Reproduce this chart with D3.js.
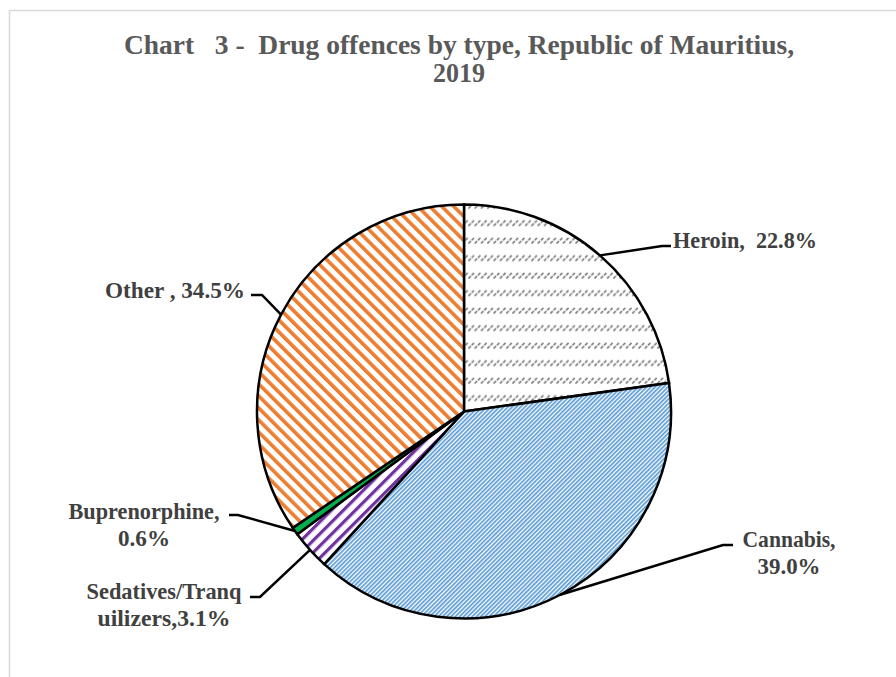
<!DOCTYPE html>
<meta charset="utf-8">
<style>
  body { margin: 0; background: #fff; }
  .title { font-family: "Liberation Serif", "Times New Roman", serif; font-weight: bold; fill: #595959; white-space: pre; }
  .lbl { font-family: "Liberation Serif", "Times New Roman", serif; font-weight: bold; fill: #404040; white-space: pre; }
  .slice { stroke: #000; stroke-width: 2.5px; }
  .leader { fill: none; stroke: #000; stroke-width: 2.5px; }
</style>
<body>
<script src="https://cdn.jsdelivr.net/npm/d3@7"></script>
<script>
  // data
  var categories = ["Heroin", "Cannabis", "Sedatives/Tranquilizers", "Buprenorphine", "Other"];
  var shares = [22.8, 39.0, 3.1, 0.6, 34.5];
  var labelText = [["Heroin,  22.8%"], ["Cannabis,", "39.0%"], ["Sedatives/Tranq", "uilizers,3.1%"], ["Buprenorphine,", "0.6%"], ["Other , 34.5%"]];
  var titleLines = ["Chart   3 -  Drug offences by type, Republic of Mauritius,", "2019"];

  // layout of the labels and leader lines (picture coordinates)
  var labelLayout = [
    { elbow: [662, 246], end: [671, 246], x: 673, y: 248, anchor: "start", widths: [144] },
    { elbow: [723, 545], end: [733, 545], x: 789, y: 547, anchor: "middle", widths: [93, 63] },
    { elbow: [260, 597], end: [250, 597], x: 164, y: 599, anchor: "middle", widths: [155, 133] },
    { elbow: [238, 515], end: [229, 515], x: 144, y: 519, anchor: "middle", widths: [151, 52] },
    { elbow: [262, 295], end: [251, 295], x: 245, y: 298, anchor: "end", widths: [140] }
  ];

  var width = 896, height = 677;
  var cx = 464, cy = 411.5, radius = 207;

  var svg = d3.select("body").append("svg")
    .attr("width", width)
    .attr("height", height);

  // light frame (top and left edges are visible)
  svg.append("path")
    .attr("d", "M9.5," + height + "V10.5H" + width)
    .attr("fill", "none")
    .attr("stroke", "#d9d9d9")
    .attr("stroke-width", 1.5);

  var defs = svg.append("defs");

  // stripe patterns
  function stripes(id, color, period, thick, angle) {
    var p = defs.append("pattern")
      .attr("id", id)
      .attr("patternUnits", "userSpaceOnUse")
      .attr("width", period)
      .attr("height", period)
      .attr("patternTransform", "rotate(" + angle + ")");
    p.append("rect").attr("width", period).attr("height", period).attr("fill", "#fff");
    p.append("rect").attr("width", thick).attr("height", period).attr("fill", color);
  }
  stripes("pCannabis", "#5b9bd5", 3, 1.7, 45);
  stripes("pSedatives", "#7030a0", 8.5, 3.2, 45);
  stripes("pOther", "#ed7d31", 8.5, 3.6, -45);

  // heroin: rows of short gray dashes
  var ph = defs.append("pattern")
    .attr("id", "pHeroin")
    .attr("patternUnits", "userSpaceOnUse")
    .attr("x", cx)
    .attr("y", cy - radius + 6)
    .attr("width", 6.3)
    .attr("height", 17.5);
  ph.append("rect").attr("width", 6.3).attr("height", 17.5).attr("fill", "#fff");
  ph.append("line")
    .attr("x1", 0.3).attr("y1", 6.5).attr("x2", 6).attr("y2", 0.8)
    .attr("stroke", "#7f7f7f")
    .attr("stroke-width", 1.7)
    .attr("stroke-dasharray", "3.5,1.2");

  var fills = ["url(#pHeroin)", "url(#pCannabis)", "url(#pSedatives)", "#00b050", "url(#pOther)"];

  var pie = d3.pie().sort(null).value(function(d) { return d; });
  var arcs = pie(shares);
  var arc = d3.arc().innerRadius(0).outerRadius(radius);

  var g = svg.append("g")
    .attr("transform", "translate(" + cx + "," + cy + ")");

  g.selectAll("path.slice")
    .data(arcs)
    .enter().append("path")
    .attr("class", "slice")
    .attr("d", arc)
    .attr("fill", function(d, i) { return fills[i]; })
    .append("title")
    .text(function(d, i) { return categories[i] + ": " + shares[i] + "%"; });

  // leader lines from the rim of each slice
  svg.selectAll("path.leader")
    .data(arcs)
    .enter().append("path")
    .attr("class", "leader")
    .attr("d", function(d, i) {
      var a = (d.startAngle + d.endAngle) / 2;
      var L = labelLayout[i];
      var sx = cx + Math.sin(a) * radius, sy = cy - Math.cos(a) * radius;
      return "M" + sx + "," + sy + "L" + L.elbow[0] + "," + L.elbow[1] + "L" + L.end[0] + "," + L.end[1];
    });

  // data labels
  labelText.forEach(function(lines, i) {
    var L = labelLayout[i];
    var t = svg.append("text")
      .attr("class", "lbl")
      .attr("font-size", 23)
      .attr("text-anchor", L.anchor);
    lines.forEach(function(s, k) {
      t.append("tspan")
        .attr("x", L.x)
        .attr("y", L.y + k * 27)
        .attr("textLength", L.widths[k])
        .attr("lengthAdjust", "spacingAndGlyphs")
        .text(s);
    });
  });

  // title
  var title = svg.append("text")
    .attr("class", "title")
    .attr("font-size", 28)
    .attr("text-anchor", "middle");
  title.append("tspan").attr("x", 459).attr("y", 54)
    .attr("textLength", 670).attr("lengthAdjust", "spacingAndGlyphs")
    .text(titleLines[0]);
  title.append("tspan").attr("x", 459).attr("y", 82)
    .attr("textLength", 52).attr("lengthAdjust", "spacingAndGlyphs")
    .text(titleLines[1]);
</script>
</body>
